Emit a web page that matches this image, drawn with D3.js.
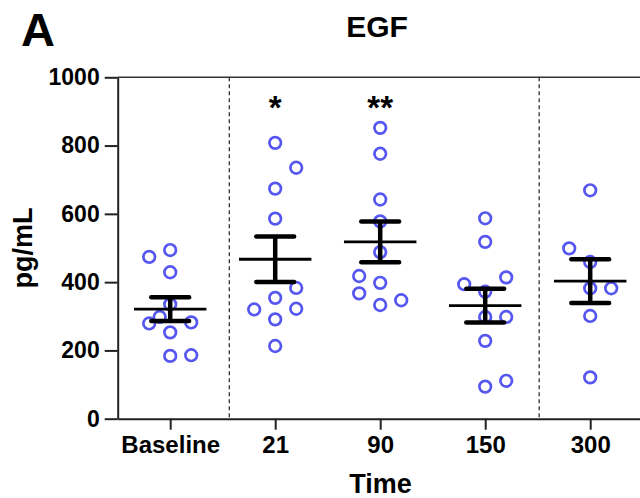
<!DOCTYPE html>
<html>
<head>
<meta charset="utf-8">
<script src="https://cdn.jsdelivr.net/npm/d3@7"></script>
<style>
  html, body { margin: 0; padding: 0; background: #fff; }
  svg { display: block; font-family: "Liberation Sans", Arial, Helvetica, sans-serif; }
</style>
</head>
<body>
<svg id="chart" width="640" height="498"></svg>
<script>
// ---- data ----
const categories = ["Baseline", "21", "90", "150", "300"];
const values = [
  [474, 494, 429, 335, 298, 279, 282, 253, 184, 186],
  [808, 735, 674, 586, 383, 354, 320, 322, 291, 213],
  [852, 776, 642, 578, 488, 418, 367, 398, 347, 333],
  [587, 518, 394, 414, 372, 298, 298, 228, 94, 111],
  [669, 499, 459, 382, 382, 301, 121]
];
// horizontal scatter slot of each point (in tenths of a category step)
const jitter = [
  [-2, 0, 0, 0, -1, -2, 2, 0, 0, 2],
  [0, 2, 0, 0, 2, 0, -2, 2, 0, 0],
  [0, 0, 0, 0, 0, -2, -2, 0, 2, 0],
  [0, 0, -2, 2, 0, 0, 2, 0, 0, 2],
  [0, -2, 0, 0, 2, 0, 0]
];
const means = [321, 467, 518, 331, 403];
const sems = [34.5, 66.5, 59.5, 49.5, 64];
const significance = ["", "*", "**", "", ""];
const yTicks = [0, 200, 400, 600, 800, 1000];
const separators = [0.563, 3.514];

// ---- scales ----
const svg = d3.select("#chart");
const x = d3.scaleLinear().domain([-0.5, 4.5]).range([117.7, 642.7]);
const y = d3.scaleLinear().domain([0, 1000]).range([418.7, 77.3]);
const font = "'Liberation Sans', Arial, Helvetica, sans-serif";

// ---- frame (top line) ----
svg.append("line")
  .attr("x1", x(-0.5)).attr("x2", 640)
  .attr("y1", y(1000)).attr("y2", y(1000))
  .attr("stroke", "#333").attr("stroke-width", 1.5);

// ---- dashed separators ----
svg.selectAll("line.sep").data(separators).join("line")
  .attr("class", "sep")
  .attr("x1", d => x(d)).attr("x2", d => x(d))
  .attr("y1", y(1000)).attr("y2", y(0))
  .attr("stroke", "#333").attr("stroke-width", 1.3)
  .attr("stroke-dasharray", "4,3");

// ---- y axis ----
const yAxis = d3.axisLeft(y).tickValues(yTicks).tickFormat(d3.format("d"))
  .tickSize(13).tickPadding(5).tickSizeOuter(0);
const gy = svg.append("g").attr("transform", `translate(${x(-0.5)},0)`).call(yAxis);
gy.select(".domain").attr("stroke", "#222").attr("stroke-width", 2);
gy.selectAll(".tick line").attr("stroke", "#222").attr("stroke-width", 2);
gy.selectAll(".tick text")
  .attr("font-family", font).attr("font-size", 23).attr("font-weight", "bold").attr("fill", "#000");

// ---- x axis ----
const xAxis = d3.axisBottom(x).tickValues(d3.range(categories.length))
  .tickFormat(i => categories[i]).tickSize(11).tickPadding(6).tickSizeOuter(0);
const gx = svg.append("g").attr("transform", `translate(0,${y(0)})`).call(xAxis);
gx.select(".domain").attr("stroke", "#222").attr("stroke-width", 2);
gx.selectAll(".tick line").attr("stroke", "#222").attr("stroke-width", 2);
gx.selectAll(".tick text")
  .attr("font-family", font).attr("font-size", 24).attr("font-weight", "bold").attr("fill", "#000");

// ---- points ----
const pts = [];
values.forEach((arr, i) => arr.forEach((v, j) => pts.push({ i, v, o: jitter[i][j] })));
svg.append("g").selectAll("circle").data(pts).join("circle")
  .attr("cx", d => x(d.i + d.o * 0.1))
  .attr("cy", d => y(d.v))
  .attr("r", 5.8)
  .attr("fill", "none")
  .attr("stroke", "#5656f0")
  .attr("stroke-width", 2.7);

// ---- mean & SEM ----
const eb = svg.append("g").selectAll("g").data(means).join("g");
eb.append("line")
  .attr("x1", (d, i) => x(i - 0.345)).attr("x2", (d, i) => x(i + 0.345))
  .attr("y1", d => y(d)).attr("y2", d => y(d))
  .attr("stroke", "#000").attr("stroke-width", 2.8);
eb.append("line")
  .attr("x1", (d, i) => x(i)).attr("x2", (d, i) => x(i))
  .attr("y1", (d, i) => y(d + sems[i])).attr("y2", (d, i) => y(d - sems[i]))
  .attr("stroke", "#000").attr("stroke-width", 4.5);
eb.append("line")
  .attr("x1", (d, i) => x(i - 0.18)).attr("x2", (d, i) => x(i + 0.18))
  .attr("y1", (d, i) => y(d + sems[i])).attr("y2", (d, i) => y(d + sems[i]))
  .attr("stroke", "#000").attr("stroke-width", 4.5).attr("stroke-linecap", "round");
eb.append("line")
  .attr("x1", (d, i) => x(i - 0.18)).attr("x2", (d, i) => x(i + 0.18))
  .attr("y1", (d, i) => y(d - sems[i])).attr("y2", (d, i) => y(d - sems[i]))
  .attr("stroke", "#000").attr("stroke-width", 4.5).attr("stroke-linecap", "round");

// ---- significance stars ----
svg.append("g").selectAll("text").data(significance).join("text")
  .attr("x", (d, i) => x(i))
  .attr("y", 119)
  .attr("text-anchor", "middle")
  .attr("font-family", font).attr("font-size", 33).attr("font-weight", "bold")
  .text(d => d);

// ---- titles ----
svg.append("text").attr("x", 21).attr("y", 46)
  .attr("font-family", font).attr("font-size", 47).attr("font-weight", "bold").text("A");
svg.append("text").attr("x", 377).attr("y", 36.7).attr("text-anchor", "middle")
  .attr("font-family", font).attr("font-size", 30).attr("font-weight", "bold").text("EGF");
svg.append("text").attr("x", 380.5).attr("y", 493).attr("text-anchor", "middle")
  .attr("font-family", font).attr("font-size", 27).attr("font-weight", "bold").text("Time");
svg.append("text")
  .attr("transform", `translate(32,${(y(0) + y(1000)) / 2}) rotate(-90)`)
  .attr("text-anchor", "middle")
  .attr("font-family", font).attr("font-size", 27).attr("font-weight", "bold").text("pg/mL");
</script>
</body>
</html>
